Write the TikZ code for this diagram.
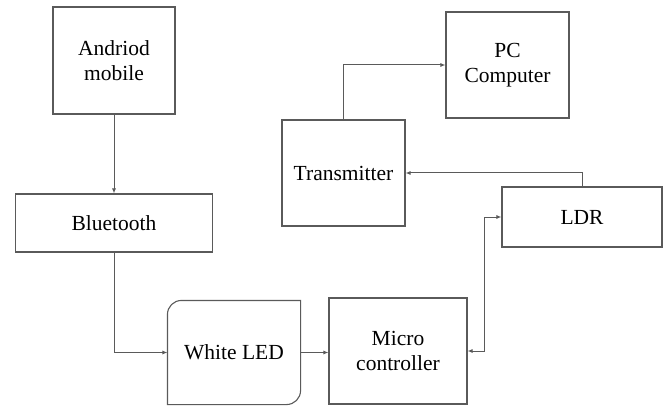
\documentclass[tikz,border=0pt]{standalone}
\usepackage{fontspec}
\setmainfont{Liberation Serif}
\usepackage{tikz}
\usetikzlibrary{positioning, arrows.meta, calc}
\usepackage{xcolor}
\definecolor{edgegray}{HTML}{5A5A5A}

\begin{document}
\begin{tikzpicture}[
    x=1pt, y=1pt,
    block/.style={rectangle, draw=edgegray, line width=1.1pt, inner sep=0pt,
    align=center, font=\fontsize{21.5}{25}\selectfont},
    arrow/.style={-{Latex[length=5pt,width=4pt]}, draw=edgegray, line width=1pt},
]
\useasboundingbox (0,0) rectangle (664,405);

\node[block, minimum width=122pt, minimum height=107pt] (android) at (114,344.5) {Andriod\\mobile};
\node[block, minimum width=197pt, minimum height=58pt] (bluetooth) at (114,182) {Bluetooth};
\node[block, draw=none, minimum width=132pt, minimum height=103pt] (led) at (234,52.5) {White LED};
\node[block, minimum width=138pt, minimum height=106pt] (micro) at (398,54) {Micro\\controller};
\node[block, minimum width=123pt, minimum height=106pt] (trans) at (343.5,232) {Transmitter};
\node[block, minimum width=123pt, minimum height=106pt] (pc) at (507.5,340) {PC\\Computer};
\node[block, minimum width=160pt, minimum height=60pt] (ldr) at (582,188) {LDR};

% white LED box with two rounded corners
\draw[edgegray, line width=1.1pt] ([yshift=14pt]led.south east) -- (led.north east)
    -- ([xshift=14pt]led.north west) arc[start angle=90, end angle=180, radius=14pt]
    -- (led.south west) -- ([xshift=-14pt]led.south east)
    arc[start angle=270, end angle=360, radius=14pt] -- cycle;

\draw[arrow] (android) -- (bluetooth);
\draw[arrow] (bluetooth.south) |- (led.west);
\draw[arrow] (led.east) -- (led.east -| micro.west);
\draw[arrow, {Latex[length=5pt,width=4pt]}-{Latex[length=5pt,width=4pt]}] (micro.east) -- ++(17,0) |- (ldr.west);
\draw[arrow] (ldr.north) |- (trans.east);
\draw[arrow] (trans.north) |- (pc.west);

\end{tikzpicture}
\end{document}
